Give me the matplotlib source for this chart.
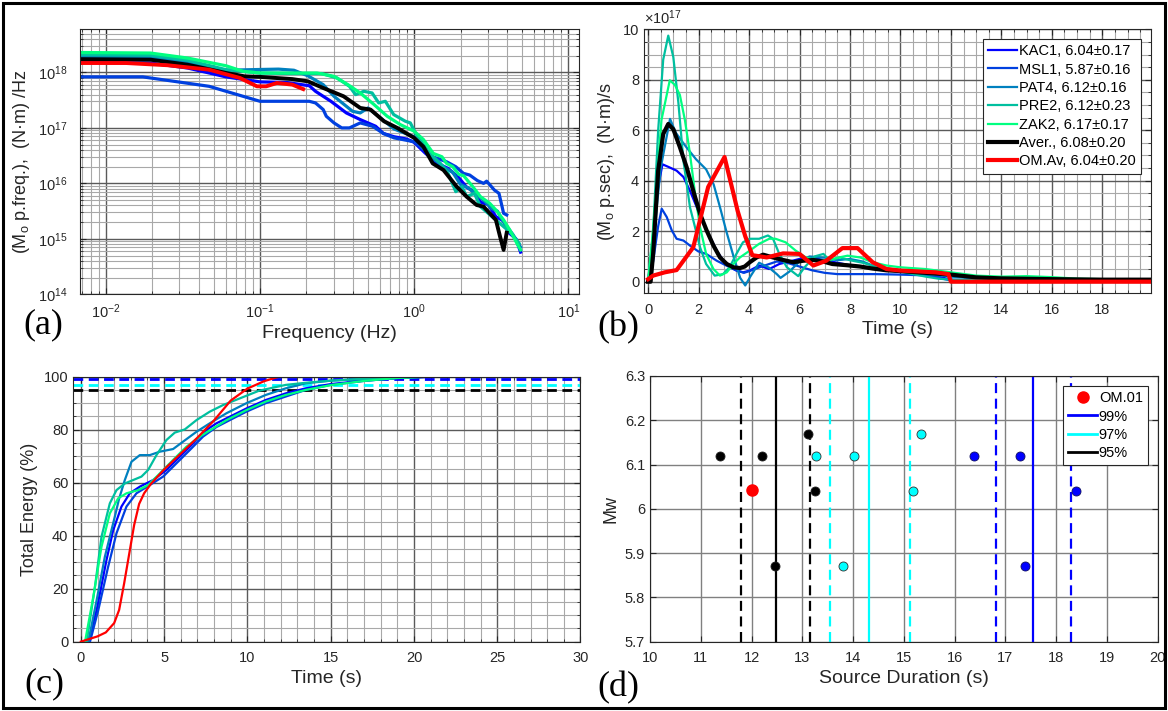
import numpy as np
import matplotlib
matplotlib.use('Agg')
import matplotlib.pyplot as plt
from matplotlib.ticker import MultipleLocator, LogLocator, NullFormatter, FuncFormatter
from matplotlib.patches import Rectangle
from matplotlib.lines import Line2D

plt.rcParams['font.family'] = ['Liberation Sans', 'DejaVu Sans']
plt.rcParams['mathtext.fontset'] = 'custom'
plt.rcParams['mathtext.rm'] = 'Liberation Sans'
plt.rcParams['mathtext.it'] = 'Liberation Sans:italic'
plt.rcParams['mathtext.bf'] = 'Liberation Sans:bold'

# ---------------- data ----------------
stations = ['KAC1', 'MSL1', 'PAT4', 'PRE2', 'ZAK2']
station_labels = ['KAC1, 6.04±0.17', 'MSL1, 5.87±0.16', 'PAT4, 6.12±0.16',
                  'PRE2, 6.12±0.23', 'ZAK2, 6.17±0.17']
aver_label = 'Aver., 6.08±0.20'
om_label = 'OM.Av, 6.04±0.20'
colors = ['#0000ff', '#0040df', '#0080bf', '#00bf9f', '#00ff80']

# (a) spectra: log10(frequency Hz), log10(Mo p.freq.)
a_kac1_lf = [-2.17, -1.71, -1.47, -1.22, -1.0, -0.83, -0.68, -0.64, -0.54, -0.44, -0.35, -0.25, -0.2, -0.13,
             -0.05, 0.0, 0.07, 0.15, 0.22, 0.29, 0.34, 0.39, 0.43, 0.48, 0.53, 0.58, 0.61, 0.66, 0.69]
a_kac1_lm = [18.18, 18.17, 18.08, 17.92, 17.83, 17.82, 17.76, 17.66, 17.48, 17.27, 17.15, 17.03, 16.9, 16.84,
             16.8, 16.74, 16.55, 16.36, 16.27, 16.1, 15.93, 15.85, 15.66, 15.62, 15.4, 15.32, 15.12, 15.0, 14.76]
a_msl1_lf = [-2.17, -1.76, -1.33, -1.11, -1.0, -0.86, -0.68, -0.64, -0.59, -0.57, -0.52, -0.47, -0.42, -0.35,
             -0.27, -0.2, -0.13, 0.0, 0.12, 0.21, 0.27, 0.32, 0.36, 0.41, 0.45, 0.47, 0.52, 0.55, 0.58, 0.6]
a_msl1_lm = [17.92, 17.92, 17.75, 17.57, 17.48, 17.48, 17.48, 17.45, 17.33, 17.21, 17.09, 17.0, 17.0, 17.09,
             17.03, 16.9, 16.82, 16.75, 16.48, 16.39, 16.3, 16.18, 16.15, 16.05, 16.0, 16.04, 15.88, 15.82, 15.46, 15.43]
a_pat4_lf = [-2.17, -1.71, -1.47, -1.22, -1.06, -0.88, -0.78, -0.69, -0.59, -0.52, -0.44, -0.4, -0.35, -0.3,
             -0.25, -0.13, 0.0, 0.1, 0.2, 0.25, 0.3, 0.35, 0.4, 0.45, 0.5, 0.54, 0.58, 0.64, 0.69]
a_pat4_lm = [18.28, 18.27, 18.18, 18.04, 18.05, 18.06, 18.04, 17.94, 17.78, 17.57, 17.39, 17.3, 17.27, 17.36,
             17.25, 16.98, 16.84, 16.5, 16.28, 16.2, 15.98, 15.92, 15.8, 15.7, 15.55, 15.5, 15.3, 15.08, 14.85]
a_pre2_lf = [-2.17, -1.71, -1.47, -1.22, -1.0, -0.8, -0.6, -0.5, -0.42, -0.38, -0.327, -0.273, -0.23, -0.187,
             -0.133, -0.057, -0.025, 0.008, 0.1, 0.17, 0.22, 0.27, 0.31, 0.34, 0.39, 0.43, 0.48, 0.53, 0.58,
             0.63, 0.68]
a_pre2_lm = [18.32, 18.31, 18.22, 18.05, 17.99, 17.98, 17.98, 17.9, 17.75, 17.6, 17.66, 17.63, 17.45, 17.48,
             17.24, 17.12, 17.09, 16.91, 16.54, 16.36, 16.18, 15.85, 15.94, 15.76, 15.82, 15.58, 15.46, 15.34,
             15.22, 15.1, 14.92]
a_zak2_lf = [-2.17, -1.71, -1.47, -1.22, -1.11, -1.0, -0.74, -0.63, -0.52, -0.43, -0.35, -0.26, -0.175, -0.09,
             0.0, 0.06, 0.124, 0.18, 0.21, 0.25, 0.29, 0.32, 0.38, 0.43, 0.49, 0.53, 0.58, 0.62, 0.67, 0.69]
a_zak2_lm = [18.36, 18.35, 18.26, 18.12, 18.02, 17.99, 17.99, 17.99, 17.93, 17.78, 17.63, 17.42, 17.21, 17.06,
             16.94, 16.79, 16.54, 16.48, 16.36, 16.3, 16.16, 16.14, 15.94, 15.76, 15.64, 15.52, 15.34, 15.16,
             14.9, 14.8]
a_aver_lf = [-2.17, -1.71, -1.47, -1.22, -1.1, -1.0, -0.79, -0.69, -0.59, -0.458, -0.35, -0.283, -0.196, -0.11,
             0.0, 0.06, 0.12, 0.19, 0.233, 0.276, 0.34, 0.405, 0.45, 0.49, 0.53, 0.557, 0.58, 0.6]
a_aver_lm = [18.24, 18.23, 18.14, 17.99, 17.93, 17.92, 17.88, 17.84, 17.72, 17.57, 17.36, 17.33, 17.12, 17.0,
             16.82, 16.66, 16.36, 16.24, 16.09, 15.94, 15.76, 15.61, 15.58, 15.46, 15.34, 15.04, 14.8, 15.11]
a_om_lf = [-2.17, -1.87, -1.6, -1.33, -1.13, -1.02, -0.96, -0.89, -0.79, -0.72]
a_om_lm = [18.17, 18.17, 18.13, 18.05, 17.9, 17.75, 17.75, 17.81, 17.78, 17.70]

# (b) source time functions: time (s), moment rate (x1e17 N·m/s)
b_kac1_t = [0, 0.15, 0.35, 0.57, 0.8, 1.13, 1.4, 1.66, 1.93, 2.19, 2.46, 2.72, 2.98, 3.25, 3.5, 3.77, 4.03,
            4.4, 4.8, 5.2, 5.6, 6.0, 6.5, 7.0, 7.5, 8.0, 8.5, 9.0, 9.5, 10.0, 10.5, 11.0, 11.5, 12.0, 13, 14,
            16, 18, 19.9]
b_kac1_v = [0, 1.2, 3.5, 4.65, 4.55, 4.4, 4.15, 3.6, 2.95, 2.29, 1.76, 1.23, 0.83, 0.57, 0.44, 0.37, 0.44,
            0.64, 0.5, 0.7, 0.8, 0.9, 0.95, 0.85, 0.75, 0.65, 0.6, 0.5, 0.45, 0.4, 0.35, 0.3, 0.2, 0.08, 0.05,
            0.04, 0.03, 0.02, 0.02]
b_msl1_t = [0, 0.2, 0.4, 0.54, 0.74, 0.94, 1.13, 1.4, 1.66, 1.99, 2.3, 2.72, 3.1, 3.5, 3.8, 4.1, 4.5, 4.8,
            5.1, 5.5, 6.0, 6.5, 7.0, 7.5, 8, 9, 10, 11, 11.5, 12, 13, 14, 16, 18, 19.9]
b_msl1_v = [0, 0.8, 2.2, 2.89, 2.56, 2.03, 1.7, 1.63, 1.43, 1.2, 1.1, 0.83, 0.64, 0.45, 0.35, 0.45, 0.6, 0.7,
            0.8, 0.75, 0.6, 0.45, 0.35, 0.3, 0.3, 0.3, 0.28, 0.25, 0.15, 0.05, 0.03, 0.02, 0.01, 0.01, 0.01]
b_pat4_t = [0, 0.2, 0.5, 0.87, 1.1, 1.5, 1.9, 2.3, 2.6, 2.85, 3.1, 3.4, 3.65, 3.85, 4.05, 4.4, 4.8, 5.1,
            5.25, 5.6, 6.0, 6.4, 7.0, 7.5, 8, 8.5, 9, 10, 11, 12, 13, 14, 16, 18, 19.9]
b_pat4_v = [0, 1.5, 4.5, 6.45, 5.9, 5.35, 4.85, 4.45, 3.85, 2.95, 2.0, 0.95, 0.15, -0.15, 0.2, 0.75, 0.55,
            0.3, 0.15, 0.4, 0.8, 1.0, 0.95, 0.85, 0.9, 0.8, 0.6, 0.45, 0.3, 0.2, 0.12, 0.08, 0.05, 0.03, 0.02]
b_pre2_t = [0, 0.2, 0.4, 0.6, 0.8, 1.0, 1.2, 1.4, 1.66, 1.86, 2.06, 2.3, 2.64, 2.97, 3.23, 3.5, 3.76, 4.03,
            4.4, 4.75, 4.95, 5.2, 5.5, 5.95, 6.2, 6.6, 6.95, 7.2, 7.6, 8, 8.5, 9, 9.5, 10, 10.5, 11, 11.5, 12,
            13, 14, 16, 18, 19.9]
b_pre2_v = [0, 2.0, 6.0, 8.8, 9.75, 8.9, 7.1, 4.8, 2.95, 2.16, 1.36, 0.7, 0.24, 0.3, 0.57, 1.1, 1.56, 1.7,
            1.7, 1.83, 1.7, 1.1, 0.57, 0.22, 0.57, 1.0, 1.1, 0.83, 0.96, 0.85, 0.75, 0.6, 0.5, 0.4, 0.3, 0.2,
            0.12, 0.08, 0.06, 0.05, 0.03, 0.02, 0.02]
b_zak2_t = [0, 0.15, 0.33, 0.53, 0.86, 1.06, 1.26, 1.46, 1.66, 1.86, 2.06, 2.3, 2.59, 2.85, 3.12, 3.38, 3.64,
            4.03, 4.4, 4.8, 5.05, 5.45, 5.85, 6.25, 6.8, 7.3, 7.9, 8.4, 8.9, 9.45, 10, 11, 12, 13, 14, 15, 16,
            17, 18, 19.9]
b_zak2_v = [0, 1.5, 3.75, 6.4, 7.98, 7.8, 7.4, 6.4, 5.07, 3.5, 2.16, 1.1, 0.5, 0.24, 0.37, 0.7, 0.96, 1.23,
            1.5, 1.7, 1.7, 1.56, 1.23, 0.96, 0.83, 0.9, 1.03, 0.96, 0.77, 0.64, 0.57, 0.5, 0.37, 0.24, 0.2,
            0.22, 0.18, 0.12, 0.1, 0.08]
b_aver_t = [0, 0.1, 0.2, 0.4, 0.6, 0.8, 1.0, 1.26, 1.53, 1.79, 2.06, 2.32, 2.59, 2.85, 3.12, 3.38, 3.64, 3.83,
            4.03, 4.3, 4.56, 4.95, 5.35, 5.75, 6.15, 6.55, 6.93, 7.3, 7.9, 8.4, 8.9, 9.45, 10, 11, 12, 13, 14,
            16, 18, 19.9]
b_aver_v = [0, 0, 1.1, 4.4, 5.85, 6.25, 6.04, 5.33, 4.53, 3.6, 2.69, 2.03, 1.43, 0.96, 0.7, 0.57, 0.54, 0.6,
            0.77, 0.96, 1.07, 0.96, 0.86, 0.77, 0.83, 0.86, 0.8, 0.7, 0.65, 0.6, 0.52, 0.45, 0.42, 0.35, 0.28,
            0.17, 0.13, 0.1, 0.08, 0.08]
b_om_t = [0, 0.2, 0.66, 1.13, 1.79, 2.38, 3.03, 3.55, 3.85, 4.13, 4.7, 5.35, 6.0, 6.55, 7.06, 7.7, 8.3, 8.9,
          9.45, 10, 11.4, 11.9, 12.0, 19.9]
b_om_v = [0.1, 0.24, 0.37, 0.46, 1.36, 3.75, 4.94, 2.8, 1.8, 1.05, 0.96, 1.12, 1.1, 0.64, 0.83, 1.33, 1.33,
          0.77, 0.5, 0.44, 0.37, 0.3, 0.0, 0.0]

# (c) cumulative energy: time (s), percent
c_kac1_t = [0.45, 0.95, 1.54, 1.94, 2.44, 2.94, 3.54, 4.34, 5.14, 5.94, 6.74, 7.54, 8.14, 8.94, 9.94, 11.1,
            12.3, 13.5, 15, 17, 19, 20.5, 21.7]
c_kac1_y = [0, 12, 30.8, 42, 51, 56, 58.5, 61, 64.8, 69.8, 74.8, 79.9, 82.4, 84.9, 88, 91.2, 93.7, 95.6, 97.2,
            98.5, 99.4, 99.8, 100]
c_msl1_t = [0.55, 1.05, 1.64, 2.14, 2.74, 3.34, 4.14, 4.94, 5.74, 6.54, 7.34, 8.14, 8.94, 9.94, 11.1, 12.3,
            13.5, 15, 17, 19, 21]
c_msl1_y = [0, 12, 28.3, 40.9, 51, 56, 59.1, 62.3, 67.3, 72.3, 77.4, 81, 83.6, 86.8, 90, 92.5, 95, 96.9, 98.4,
            99.5, 100]
c_pat4_t = [0.45, 0.95, 1.44, 2.04, 2.3, 2.64, 3.04, 3.54, 4.14, 4.74, 5.54, 6.14, 6.94, 7.74, 8.74, 9.94,
            11.1, 12.3, 13.5, 15, 17, 19, 21]
c_pat4_y = [0, 15.7, 32, 47.2, 54, 61, 67.9, 70.4, 70.4, 71.7, 72.7, 75.5, 79.2, 82.4, 86.2, 90, 93.1, 95.6,
            97.5, 98.5, 99.2, 99.7, 100]
c_pre2_t = [0.35, 0.85, 1.24, 1.74, 2.14, 2.64, 3.14, 3.64, 4.04, 4.54, 5.14, 5.64, 6.24, 6.94, 7.74, 8.54,
            9.54, 10.7, 12.3, 13.5, 15, 17, 19, 21]
c_pre2_y = [0, 20.8, 39.6, 52.2, 57.2, 59.7, 61, 62.3, 64.8, 70.4, 76.1, 78.9, 80.1, 83.6, 86.8, 89.3, 91.8,
            94.7, 96.9, 97.7, 98.5, 99.2, 99.7, 100]
c_zak2_t = [0.25, 0.75, 1.24, 1.74, 2.24, 2.74, 3.44, 4.04, 4.74, 5.54, 6.34, 7.14, 7.94, 8.74, 9.94, 11.1,
            12.3, 13.5, 15, 17, 19, 20.8]
c_zak2_y = [0, 17, 35.8, 48.4, 54.1, 56, 57.2, 59.1, 63.5, 68.6, 73.6, 77.4, 80.5, 83.6, 87.4, 90.6, 93.1, 95,
            96.8, 98.4, 99.5, 100]
c_om_t = [0, 0.5, 1.0, 1.5, 2.0, 2.3, 2.6, 2.9, 3.2, 3.5, 3.8, 4.2, 5.0, 6.0, 7.0, 8.0, 9.0, 10.0, 11.0, 11.9]
c_om_y = [0, 1, 2, 3.5, 7, 12, 22, 33, 44, 52, 56, 59.5, 65, 71, 77, 83.5, 91, 95.5, 98.3, 100]
energy_levels = [99, 97, 95]
level_colors = ['#0000ff', '#00ffff', '#000000']

# (d) source duration vs Mw
mw_stations = [6.04, 5.87, 6.12, 6.12, 6.17]
dur95 = [13.25, 12.46, 12.20, 11.37, 13.12]
dur97 = [15.18, 13.81, 14.01, 13.28, 15.34]
dur99 = [18.39, 17.39, 17.28, 16.39, 18.30]
om_dur = [12.0]
om_mw = [6.043]
lines95 = [11.79, 12.48, 13.16]   # mean-std, mean, mean+std
lines97 = [13.54, 14.32, 15.12]
lines99 = [16.81, 17.55, 18.29]

# ---------------- figure ----------------
fig = plt.figure(figsize=(11.68, 7.11), dpi=100)
TXT = '#262626'
XL = 14
YL = 13

ax_a = fig.add_axes([0.0685, 0.5861, 0.4276, 0.3727])
ax_b = fig.add_axes([0.5514, 0.5875, 0.4341, 0.3713])
ax_c = fig.add_axes([0.0628, 0.0975, 0.4342, 0.3727])
ax_d = fig.add_axes([0.5565, 0.0975, 0.4346, 0.3737])


def style(ax, major='#5a5a5a', minor='#a8a8a8', minor_on=True):
    ax.tick_params(which='both', direction='in', top=True, right=True, labelsize=10.5,
                   labelcolor=TXT, color=TXT)
    ax.tick_params(which='major', length=4)
    ax.tick_params(which='minor', length=2)
    ax.tick_params(axis='x', which='major', pad=7)
    for s in ax.spines.values():
        s.set_color(TXT)
        s.set_linewidth(0.8)
    if minor_on:
        ax.grid(True, which='minor', color=minor, lw=0.8)
    ax.grid(True, which='major', color=major, lw=1.0)
    ax.set_axisbelow(True)


# ---- (a)
style(ax_a)
ax_a.tick_params(axis='y', which='major', pad=9)
ax_a.tick_params(axis='x', which='major', pad=6)
ax_a.set_xscale('log')
ax_a.set_yscale('log')
a_lf = [a_kac1_lf, a_msl1_lf, a_pat4_lf, a_pre2_lf, a_zak2_lf]
a_lm = [a_kac1_lm, a_msl1_lm, a_pat4_lm, a_pre2_lm, a_zak2_lm]
for lf, lm, c in zip(a_lf, a_lm, colors):
    ax_a.plot(10 ** np.array(lf), 10 ** np.array(lm), color=c, lw=2.3, solid_joinstyle='round')
ax_a.plot(10 ** np.array(a_aver_lf), 10 ** np.array(a_aver_lm), color='black', lw=2.8)
ax_a.plot(10 ** np.array(a_om_lf), 10 ** np.array(a_om_lm), color='red', lw=2.8)
ax_a.set_xlim(0.0068, 11.8)
ax_a.set_ylim(1e14, 6e18)
ax_a.xaxis.set_major_locator(LogLocator(base=10, numticks=10))
ax_a.yaxis.set_major_locator(LogLocator(base=10, numticks=10))
ax_a.xaxis.set_minor_locator(LogLocator(base=10, subs=np.arange(2, 10), numticks=20))
ax_a.yaxis.set_minor_locator(LogLocator(base=10, subs=np.arange(2, 10), numticks=20))
ax_a.xaxis.set_minor_formatter(NullFormatter())
ax_a.yaxis.set_minor_formatter(NullFormatter())
ax_a.set_xlabel('Frequency (Hz)', fontsize=XL, color=TXT, labelpad=3)
ax_a.set_ylabel(r'(M$_{\rm o}$ p.freq.),  (N·m) /Hz', fontsize=YL, color=TXT)

# ---- (b)
style(ax_b)
b_t = [b_kac1_t, b_msl1_t, b_pat4_t, b_pre2_t, b_zak2_t]
b_v = [b_kac1_v, b_msl1_v, b_pat4_v, b_pre2_v, b_zak2_v]
handles = []
for t, v, c, lab in zip(b_t, b_v, colors, station_labels):
    h, = ax_b.plot(t, v, color=c, lw=1.6, label=lab)
    handles.append(h)
h, = ax_b.plot(b_aver_t, b_aver_v, color='black', lw=3.0, label=aver_label)
handles.append(h)
h, = ax_b.plot(b_om_t, b_om_v, color='red', lw=3.0, label=om_label)
handles.append(h)
ax_b.set_xlim(-0.16, 19.93)
ax_b.set_ylim(-0.46, 10)
ax_b.xaxis.set_major_locator(MultipleLocator(2))
ax_b.xaxis.set_minor_locator(MultipleLocator(0.5))
ax_b.yaxis.set_major_locator(MultipleLocator(2))
ax_b.yaxis.set_minor_locator(MultipleLocator(0.5))
ax_b.set_xlabel('Time (s)', fontsize=XL, color=TXT, labelpad=3)
ax_b.set_ylabel(r'(M$_{\rm o}$ p.sec),  (N·m)/s', fontsize=YL, color=TXT)
ax_b.text(0.0, 1.01, r'×10$^{17}$', transform=ax_b.transAxes, fontsize=10.5, color=TXT,
          ha='left', va='bottom')
leg = ax_b.legend(handles=handles, loc='upper right', bbox_to_anchor=(0.98, 0.963), fontsize=10.5,
                  frameon=True, fancybox=False, framealpha=1, edgecolor=TXT, borderaxespad=0,
                  handlelength=2.0, handletextpad=0.15, labelspacing=0.3, borderpad=0.35)
leg.get_frame().set_linewidth(0.8)

# ---- (c)
style(ax_c)
c_t = [c_kac1_t, c_msl1_t, c_pat4_t, c_pre2_t, c_zak2_t]
c_y = [c_kac1_y, c_msl1_y, c_pat4_y, c_pre2_y, c_zak2_y]
for lev, lc in zip(energy_levels, level_colors):
    ax_c.axhline(lev, color=lc, lw=2.0, dashes=(3.5, 2.0), zorder=1.5)
for t, y, c in zip(c_t, c_y, colors):
    ax_c.plot(t, y, color=c, lw=1.6)
ax_c.plot(c_om_t, c_om_y, color='red', lw=1.6)
ax_c.set_xlim(-0.45, 30)
ax_c.set_ylim(0, 100)
ax_c.xaxis.set_major_locator(MultipleLocator(5))
ax_c.xaxis.set_minor_locator(MultipleLocator(1))
ax_c.yaxis.set_major_locator(MultipleLocator(20))
ax_c.yaxis.set_minor_locator(MultipleLocator(5))
ax_c.set_xlabel('Time (s)', fontsize=XL, color=TXT, labelpad=3)
ax_c.set_ylabel('Total Energy (%)', fontsize=YL, color=TXT)

# ---- (d)
style(ax_d, major='#808080', minor_on=False)
for vals, lc in zip([lines95, lines97, lines99], ['#000000', '#00ffff', '#0000ff']):
    ax_d.axvline(vals[0], color=lc, lw=1.6, dashes=(4.5, 2.5))
    ax_d.axvline(vals[1], color=lc, lw=1.6)
    ax_d.axvline(vals[2], color=lc, lw=1.6, dashes=(4.5, 2.5))
ax_d.plot(dur95, mw_stations, ls='none', marker='o', ms=6.5, mfc='black', mec='#202020', mew=0.6, zorder=3)
ax_d.plot(dur97, mw_stations, ls='none', marker='o', ms=6.5, mfc='#00ffff', mec='#303030', mew=0.6, zorder=3)
ax_d.plot(dur99, mw_stations, ls='none', marker='o', ms=6.5, mfc='#0000ff', mec='#101060', mew=0.6, zorder=3)
ax_d.plot(om_dur, om_mw, ls='none', marker='o', ms=8, mfc='red', mec='red', zorder=3)
ax_d.set_xlim(10, 20)
ax_d.set_ylim(5.7, 6.3)
ax_d.xaxis.set_major_locator(MultipleLocator(1))
ax_d.yaxis.set_major_locator(MultipleLocator(0.1))
ax_d.yaxis.set_major_formatter(FuncFormatter(lambda v, p: f'{round(v, 2):g}'))
ax_d.set_xlabel('Source Duration (s)', fontsize=XL, color=TXT, labelpad=3)
ax_d.set_ylabel('Mw', fontsize=YL, color=TXT)
d_handles = [Line2D([], [], ls='none', marker='o', ms=8, mfc='red', mec='red'),
             Line2D([], [], color='#0000ff', lw=2),
             Line2D([], [], color='#00ffff', lw=2),
             Line2D([], [], color='#000000', lw=2)]
leg2 = ax_d.legend(d_handles, ['OM.01', '99%', '97%', '95%'], loc='upper right',
                   bbox_to_anchor=(0.981, 0.962), fontsize=10.5, frameon=True, fancybox=False,
                   framealpha=1, edgecolor=TXT, borderaxespad=0, handlelength=2.0,
                   handletextpad=0.1, labelspacing=0.3, borderpad=0.35)
leg2.get_frame().set_linewidth(0.8)
leg2.set_zorder(5)

# panel labels
for lab, x, y in [('(a)', 23, 325), ('(b)', 597, 328), ('(c)', 24, 684), ('(d)', 597, 688)]:
    fig.text(x / 1168, 1 - y / 711, lab, family='Liberation Serif', fontsize=26, ha='left', va='center')

# outer border
fig.add_artist(Rectangle((3 / 1168, 3 / 711), 1162 / 1168, 705 / 711, transform=fig.transFigure,
                         fill=False, lw=2.2, ec='black'))

fig.savefig('out.png', dpi=100)
